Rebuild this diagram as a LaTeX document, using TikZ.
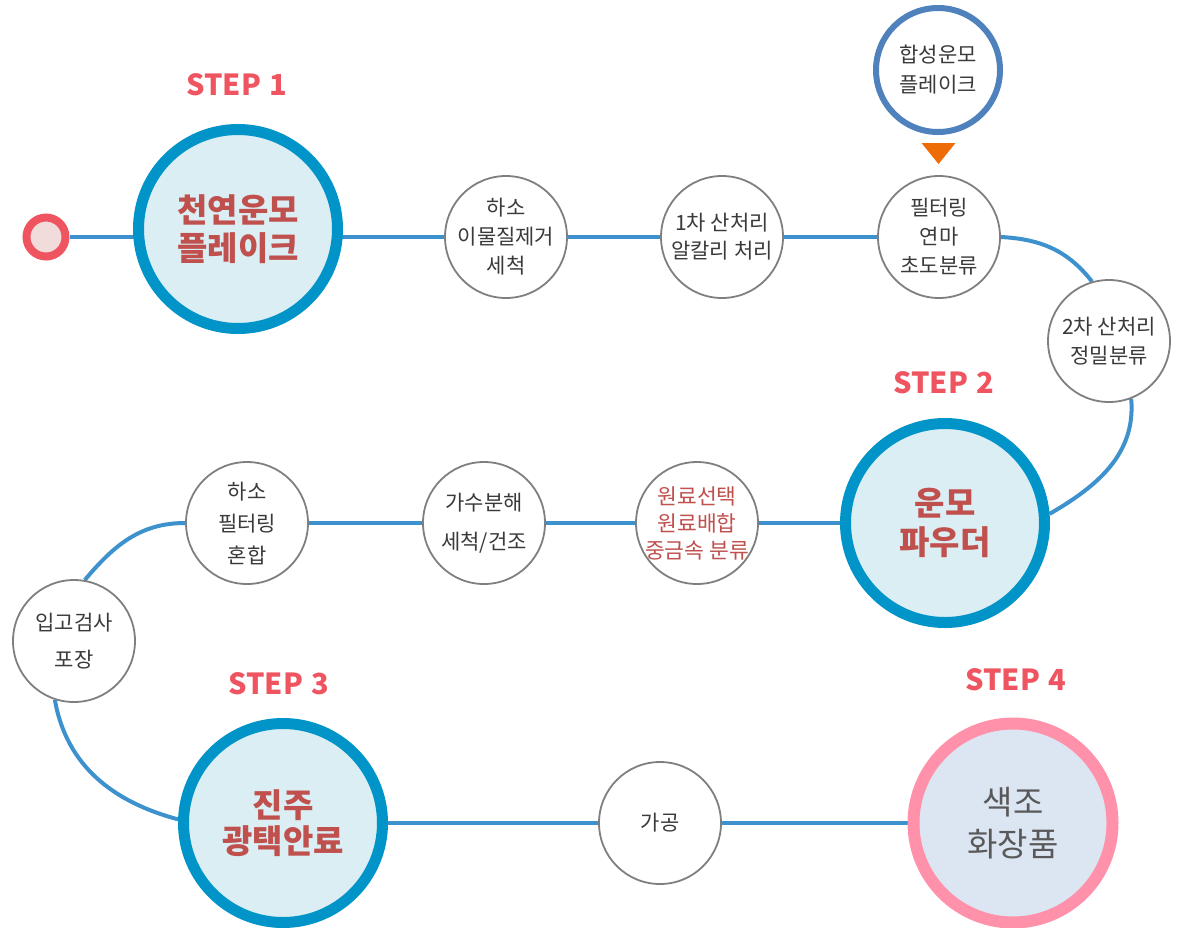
\documentclass[tikz,border=0pt]{standalone}
\usepackage{fontspec}
\setmainfont{Noto Sans CJK KR}
\usetikzlibrary{backgrounds}
\definecolor{connblue}{HTML}{3D92CD}
\definecolor{bigring}{HTML}{0094C8}
\definecolor{bigfill}{HTML}{DAEEF3}
\definecolor{bigtext}{HTML}{C0504D}
\definecolor{stepred}{HTML}{EF5560}
\definecolor{startfill}{HTML}{F2DCDB}
\definecolor{smallring}{HTML}{7F7F7F}
\definecolor{smalltext}{HTML}{3A3A3A}
\definecolor{synring}{HTML}{4F81BD}
\definecolor{tri}{HTML}{EE6C08}
\definecolor{pinkring}{HTML}{FF92AA}
\definecolor{pinkfill}{HTML}{DCE6F2}
\definecolor{graytext}{HTML}{595959}
\begin{document}
\begin{tikzpicture}[x=1pt,y=1pt,
  bigc/.style={circle, draw=bigring, line width=11pt, fill=bigfill, minimum size=199pt, inner sep=-40pt, text=bigtext, align=center},
  smallc/.style={circle, draw=smallring, line width=1.8pt, fill=white, minimum size=122pt, inner sep=-40pt, text=smalltext, align=center},
  steplbl/.style={text=stepred, font=\fontsize{29}{34}\selectfont\bfseries},
  conn/.style={draw=connblue, line width=4pt}]
\useasboundingbox (0,0) rectangle (1177,-927);

% start
\node[circle, draw=stepred, line width=8pt, fill=startfill, minimum size=39pt, inner sep=0pt] (start) at (46,-237) {};

% row 1
\node[bigc, font=\fontsize{33}{38}\selectfont\bfseries] (s1) at (238,-229) {천연운모\\플레이크};
\node[smallc, font=\fontsize{21}{29}\selectfont] (a1) at (506,-237) {하소\\이물질제거\\세척};
\node[smallc, font=\fontsize{21}{28}\selectfont] (a2) at (722,-237) {1차 산처리\\알칼리 처리};
\node[smallc, font=\fontsize{21}{29}\selectfont] (a3) at (939,-237) {필터링\\연마\\초도분류};
\node[circle, draw=synring, line width=6pt, fill=white, minimum size=124pt, inner sep=-40pt, text=smalltext, align=center, font=\fontsize{21}{30}\selectfont] (syn) at (938,-70) {합성운모\\플레이크};
\fill[tri] ([xshift=-16.5pt,yshift=-8pt]syn.south) -- ++(34,0) -- ++(-17,-21) -- cycle;
\node[smallc, font=\fontsize{21}{29}\selectfont] (a4) at (1109,-341) {2차 산처리\\정밀분류};

% row 2
\node[bigc, font=\fontsize{33}{39}\selectfont\bfseries] (s2) at (945,-523) {운모\\파우더};
\node[smallc, text=bigtext, font=\fontsize{21.5}{27}\selectfont] (b1) at (697,-523) {원료선택\\원료배합\\중금속 분류};
\node[smallc, font=\fontsize{21}{39}\selectfont] (b2) at (484,-523) {가수분해\\세척/건조};
\node[smallc, font=\fontsize{21}{32}\selectfont] (b3) at (247,-523) {하소\\필터링\\혼합};
\node[smallc, font=\fontsize{21}{37}\selectfont] (c1) at (74,-641) {입고검사\\포장};

% row 3
\node[bigc, font=\fontsize{33}{36}\selectfont\bfseries] (s3) at (283,-823) {진주\\광택안료};
\node[smallc, font=\fontsize{21}{29}\selectfont] (d1) at (660,-823) {가공};
\node[circle, draw=pinkring, line width=12pt, fill=pinkfill, minimum size=199pt, inner sep=-40pt, text=graytext, align=center, font=\fontsize{33}{42}\selectfont] (s4) at (1013,-823) {색조\\화장품};

% step labels
\node[steplbl] (t1) at (237,-85) {STEP\hspace{2pt} 1};
\node[steplbl] (t2) at (944,-383) {STEP\hspace{2pt} 2};
\node[steplbl] (t3) at (279,-684) {STEP\hspace{2pt} 3};
\node[steplbl] (t4) at (1016,-680) {STEP\hspace{2pt} 4};

% connectors
\begin{scope}[on background layer]
\draw[conn] (start) -- (start -| s1);
\draw[conn] (s1 |- a1) -- (a1) -- (a2) -- (a3);
\draw[conn] (a3.east) to[out=-3,in=128] (a4.106);
\draw[conn] (a4.-69) to[out=-85,in=30] (s2.5);
\draw[conn] (s2) -- (b1) -- (b2) -- (b3);
\draw[conn] (b3.west) to[out=180,in=50] (c1.80);
\draw[conn] (c1.252) to[out=-80,in=165] (s3.178);
\draw[conn] (s3) -- (d1) -- (s4);
\end{scope}
\end{tikzpicture}
\end{document}
